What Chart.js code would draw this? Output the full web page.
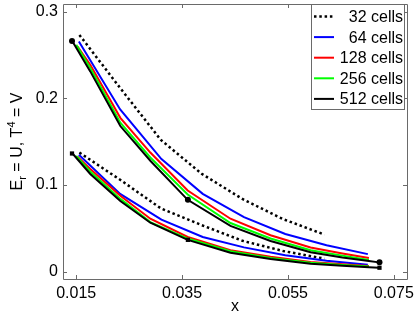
<!DOCTYPE html>
<html>
<head>
<meta charset="utf-8">
<script src="https://cdn.jsdelivr.net/npm/chart.js@4.4.1/dist/chart.umd.min.js"></script>
<style>
  html, body { margin: 0; padding: 0; background: #fff; }
  #wrap { width: 415px; height: 317px; }
</style>
</head>
<body>
<div id="wrap"><canvas id="chart" width="415" height="317"></canvas></div>
<script>
// tick values
const xTicks = [0.015, 0.035, 0.055, 0.075];
const yTicks = [0, 0.1, 0.2, 0.3];

// upper family: E_r = U
const u32x = [0.0156, 0.0233, 0.0310, 0.0387, 0.0464, 0.0541, 0.0619];
const u32y = [0.2733, 0.2120, 0.1520, 0.1130, 0.0839, 0.0606, 0.0428];
const u64x = [0.0155, 0.0233, 0.0311, 0.0389, 0.0467, 0.0545, 0.0623, 0.0701];
const u64y = [0.2656, 0.1873, 0.1299, 0.0898, 0.0630, 0.0435, 0.0305, 0.0202];
const u128x = [0.01525, 0.01765, 0.02333, 0.0290, 0.03606, 0.04414, 0.05171, 0.05928, 0.0653, 0.0703];
const u128y = [0.2599, 0.2389, 0.1776, 0.1375, 0.0936, 0.0611, 0.0420, 0.0279, 0.0210, 0.0158];
const u256x = [0.0150, 0.01765, 0.02333, 0.0290, 0.03606, 0.04414, 0.05171, 0.05928, 0.0653, 0.0703];
const u256y = [0.2618, 0.2350, 0.1719, 0.1318, 0.0890, 0.0561, 0.0382, 0.0248, 0.0185, 0.0135];
const u512x = [0.0143, 0.01765, 0.02333, 0.0290, 0.03606, 0.04414, 0.05171, 0.05928, 0.0653, 0.0703, 0.0722];
const u512y = [0.2656, 0.2312, 0.1681, 0.1280, 0.0829, 0.0529, 0.0354, 0.0225, 0.0162, 0.0123, 0.0107];

// lower family: T^4 = V
const v32x = [0.0156, 0.0233, 0.0310, 0.0387, 0.0464, 0.0541, 0.0619];
const v32y = [0.1375, 0.1060, 0.0730, 0.0537, 0.0356, 0.0238, 0.0150];
const v64x = [0.0155, 0.0233, 0.0311, 0.0389, 0.0467, 0.0545, 0.0623, 0.0701];
const v64y = [0.1349, 0.0898, 0.0600, 0.0400, 0.0280, 0.0190, 0.0125, 0.0079];
const v128x = [0.01525, 0.01765, 0.02333, 0.0290, 0.03606, 0.04414, 0.05171, 0.05928, 0.0653, 0.0703];
const v128y = [0.1326, 0.1185, 0.0875, 0.0611, 0.0400, 0.0248, 0.0172, 0.0112, 0.0085, 0.0065];
const v256x = [0.0150, 0.01765, 0.02333, 0.0290, 0.03606, 0.04414, 0.05171, 0.05928, 0.0653, 0.0703];
const v256y = [0.1337, 0.1157, 0.0840, 0.0572, 0.0382, 0.0235, 0.0158, 0.0102, 0.0076, 0.0058];
const v512x = [0.0143, 0.01765, 0.02333, 0.0290, 0.03606, 0.04414, 0.05171, 0.05928, 0.0653, 0.0703, 0.0722];
const v512y = [0.1364, 0.1127, 0.0815, 0.0565, 0.0367, 0.0218, 0.0145, 0.0092, 0.0068, 0.0052, 0.0045];

// reference markers
const markX = [0.0142, 0.0361, 0.0723];
const markU = [0.2664, 0.0829, 0.0107];
const markV = [0.1364, 0.0367, 0.0045];

const seriesNames = ['32 cells', '64 cells', '128 cells', '256 cells', '512 cells'];
const seriesColors = ['#000000', '#0000ff', '#ff0000', '#00ff00', '#000000'];

const FONT = "'Liberation Sans', Arial, sans-serif";
const AXIS = '#6a6a6a';

function pts(xs, ys) {
  return xs.map((x, i) => ({ x: x, y: ys[i] }));
}

function lineSet(label, xs, ys, k) {
  return {
    label: label,
    data: pts(xs, ys),
    showLine: true,
    borderColor: seriesColors[k],
    borderWidth: k === 0 ? 2.5 : 2,
    borderDash: k === 0 ? [2.5, 2.8] : [],
    borderCapStyle: 'butt',
    pointRadius: 0,
    fill: false,
    order: 5 - k
  };
}

function markSet(label, ys, style) {
  return {
    label: label,
    data: pts(markX, ys),
    showLine: false,
    pointStyle: style,
    pointRadius: 3,
    backgroundColor: '#000',
    borderColor: '#000',
    borderWidth: 0,
    order: 0
  };
}

const datasets = [
  lineSet(seriesNames[0], u32x, u32y, 0),
  lineSet(seriesNames[0], v32x, v32y, 0),
  lineSet(seriesNames[1], u64x, u64y, 1),
  lineSet(seriesNames[1], v64x, v64y, 1),
  lineSet(seriesNames[2], u128x, u128y, 2),
  lineSet(seriesNames[2], v128x, v128y, 2),
  lineSet(seriesNames[3], u256x, u256y, 3),
  lineSet(seriesNames[3], v256x, v256y, 3),
  lineSet(seriesNames[4], u512x, u512y, 4),
  lineSet(seriesNames[4], v512x, v512y, 4),
  markSet('U', markU, 'circle'),
  markSet('V', markV, 'rect')
];

// frame, inward ticks, axis titles and the boxed legend
const matlabLook = {
  id: 'matlabLook',
  afterDraw(chart) {
    const ctx = chart.ctx;
    const a = chart.chartArea;
    const xs = chart.scales.x, ys = chart.scales.y;
    ctx.save();
    ctx.strokeStyle = AXIS;
    ctx.lineWidth = 1;
    ctx.beginPath();
    ctx.rect(Math.round(a.left) + 0.5, Math.round(a.top) + 0.5,
      Math.round(a.right - a.left), Math.round(a.bottom - a.top));
    xTicks.forEach(v => {
      const p = Math.round(xs.getPixelForValue(v)) + 0.5;
      ctx.moveTo(p, a.bottom); ctx.lineTo(p, a.bottom - 4);
      ctx.moveTo(p, a.top); ctx.lineTo(p, a.top + 4);
    });
    yTicks.forEach(v => {
      const p = Math.round(ys.getPixelForValue(v)) + 0.5;
      ctx.moveTo(a.left, p); ctx.lineTo(a.left + 4, p);
      ctx.moveTo(a.right, p); ctx.lineTo(a.right - 4, p);
    });
    ctx.stroke();

    // x title
    ctx.fillStyle = '#000';
    ctx.font = '16px ' + FONT;
    ctx.textAlign = 'center';
    ctx.textBaseline = 'alphabetic';
    ctx.fillText('x', (a.left + a.right) / 2, 311);

    // y title with sub/superscripts
    const big = '16px ' + FONT, small = '11px ' + FONT;
    const parts = [
      ['E', big, 0], ['r', small, 4], [' = U, T', big, 0],
      ['4', small, -7], [' = V', big, 0]
    ];
    let total = 0;
    parts.forEach(p => { ctx.font = p[1]; total += ctx.measureText(p[0]).width; });
    ctx.translate(22, (a.top + a.bottom) / 2);
    ctx.rotate(-Math.PI / 2);
    ctx.textAlign = 'left';
    let cx = -total / 2;
    parts.forEach(p => {
      ctx.font = p[1];
      ctx.fillText(p[0], cx, p[2]);
      cx += ctx.measureText(p[0]).width;
    });
    ctx.setTransform(1, 0, 0, 1, 0, 0);

    // legend
    const bx = 311.5, by = 4.5, bw = 93, bh = 105;
    ctx.fillStyle = '#fff';
    ctx.fillRect(bx, by, bw, bh);
    ctx.strokeStyle = AXIS;
    ctx.strokeRect(bx, by, bw, bh);
    ctx.font = '16px ' + FONT;
    ctx.textAlign = 'right';
    ctx.textBaseline = 'middle';
    seriesNames.forEach((name, i) => {
      const yy = 16.5 + i * 20.6;
      ctx.beginPath();
      ctx.strokeStyle = seriesColors[i];
      ctx.lineWidth = i === 0 ? 2.5 : 2;
      ctx.setLineDash(i === 0 ? [2.5, 2.8] : []);
      ctx.moveTo(314, yy); ctx.lineTo(334, yy);
      ctx.stroke();
      ctx.setLineDash([]);
      ctx.fillStyle = '#000';
      ctx.fillText(name, 403, yy + 1);
    });
    ctx.restore();
  }
};

new Chart(document.getElementById('chart'), {
  type: 'scatter',
  data: { datasets: datasets },
  plugins: [matlabLook],
  options: {
    responsive: false,
    animation: false,
    layout: { padding: { left: 0, right: 8, top: 2, bottom: 0 } },
    plugins: { legend: { display: false }, tooltip: { enabled: false } },
    scales: {
      x: {
        type: 'linear',
        min: 0.0125,
        max: 0.0775,
        afterFit(s) { s.height = 38; s.paddingLeft = 0; s.paddingRight = 0; },
        afterBuildTicks(s) { s.ticks = xTicks.map(v => ({ value: v })); },
        grid: { display: false, drawTicks: false },
        border: { display: false },
        ticks: {
          padding: 5,
          color: '#000',
          font: { family: FONT, size: 16 },
          maxRotation: 0,
          callback: v => v.toFixed(3)
        }
      },
      y: {
        type: 'linear',
        min: -0.0085,
        max: 0.309,
        afterFit(s) { s.width = 63; s.paddingTop = 0; s.paddingBottom = 0; },
        afterBuildTicks(s) { s.ticks = yTicks.map(v => ({ value: v })); },
        grid: { display: false, drawTicks: false },
        border: { display: false },
        ticks: {
          padding: 5,
          color: '#000',
          font: { family: FONT, size: 16 },
          callback: v => v === 0 ? '0' : v.toFixed(1)
        }
      }
    }
  }
});
</script>
</body>
</html>
